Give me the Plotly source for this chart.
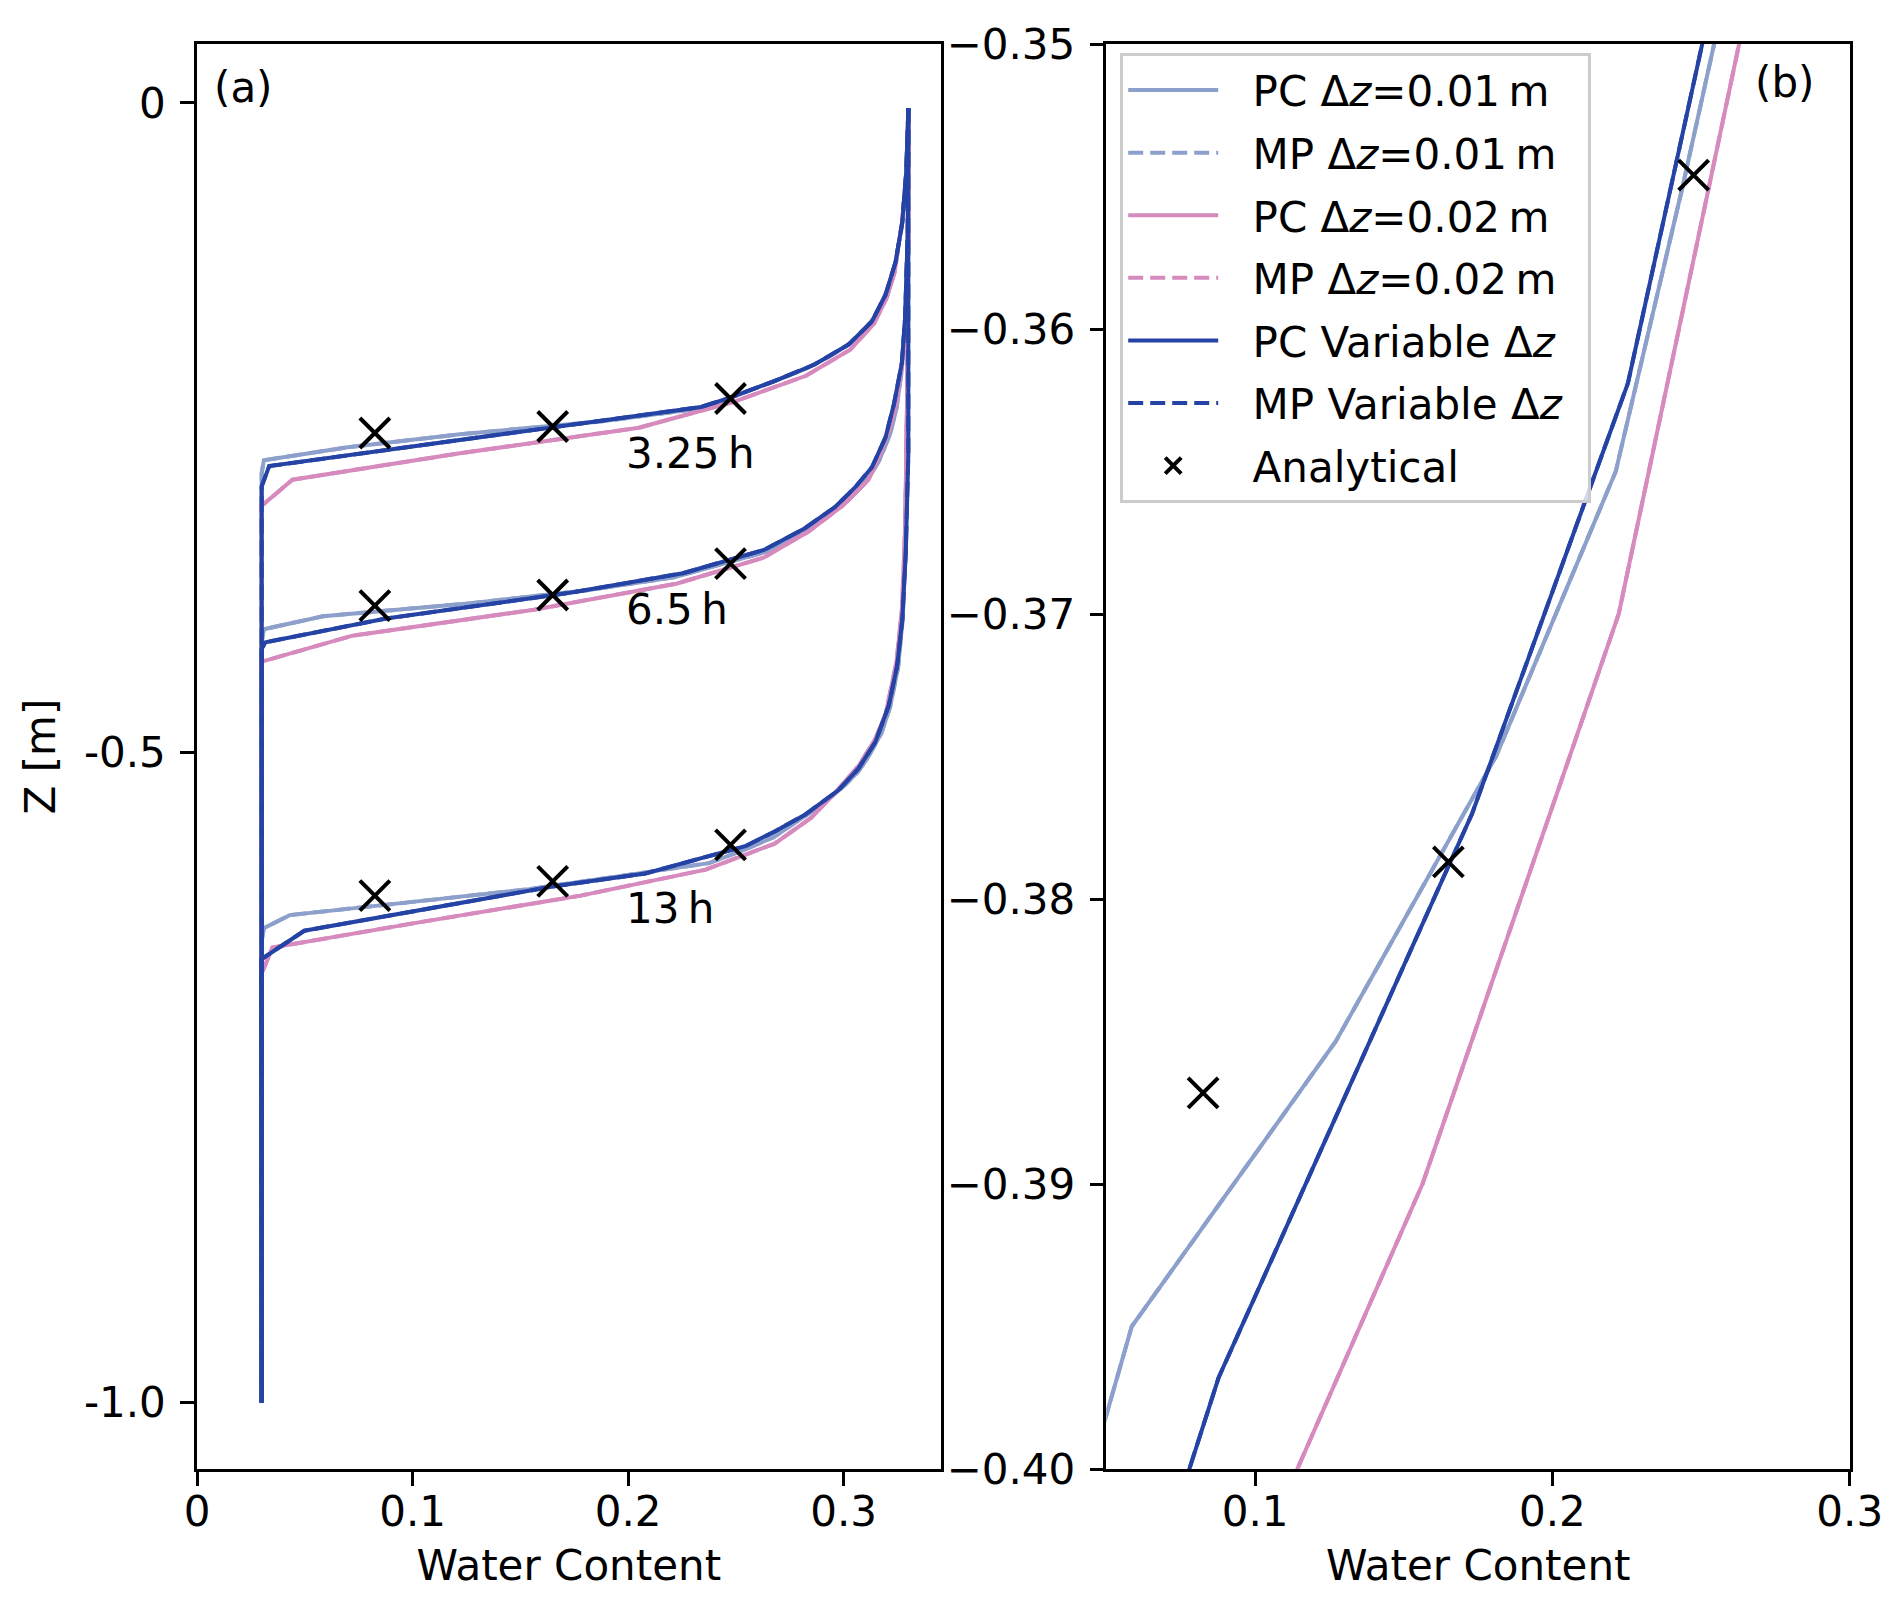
import plotly.graph_objects as go
from plotly.subplots import make_subplots

# colours of the three grids
LIGHT = "#8da0cb"
PINK = "#d68abd"
DARK = "#2443a5"
FONT = "DejaVu Sans"

# --- 3.25 h profiles (water content, depth) ---
th01_325 = [0.330, 0.329, 0.327, 0.3237, 0.320, 0.3142, 0.3095, 0.303, 0.2935, 0.282,
            0.2665, 0.250, 0.234, 0.188, 0.122, 0.070, 0.031, 0.030, 0.030]
z01_325 = [-0.005, -0.055, -0.095, -0.125, -0.145, -0.165, -0.175, -0.185, -0.195, -0.205,
           -0.215, -0.225, -0.235, -0.245, -0.255, -0.265, -0.275, -0.285, -1.0]
th02_325 = [0.330, 0.3292, 0.3272, 0.3237, 0.320, 0.314, 0.303, 0.2825, 0.249, 0.205,
            0.1204, 0.0443, 0.030, 0.030]
z02_325 = [-0.01, -0.05, -0.09, -0.13, -0.15, -0.17, -0.19, -0.21, -0.23, -0.25,
           -0.27, -0.29, -0.31, -1.0]
thv_325 = [0.330, 0.329, 0.3272, 0.3241, 0.3194, 0.3131, 0.3022, 0.2865, 0.2678, 0.2475,
           0.2338, 0.165, 0.0335, 0.030, 0.030]
zv_325 = [-0.004, -0.0535, -0.0917, -0.1223, -0.1478, -0.1682, -0.186, -0.2013, -0.2141, -0.2268,
          -0.234, -0.2495, -0.2795, -0.295, -1.0]

# --- 6.5 h profiles ---
th01_65 = [0.330, 0.3297, 0.3285, 0.327, 0.3245, 0.3215, 0.3165, 0.313, 0.3085, 0.3025, 0.295,
           0.2855, 0.2755, 0.265, 0.2438, 0.2213, 0.181, 0.1271, 0.0585, 0.031, 0.030, 0.030]
z01_65 = [-0.005, -0.105, -0.165, -0.205, -0.235, -0.255, -0.275, -0.285, -0.295, -0.305, -0.315,
          -0.325, -0.335, -0.345, -0.355, -0.365, -0.375, -0.385, -0.395, -0.405, -0.415, -1.0]
th02_65 = [0.330, 0.330, 0.3292, 0.3278, 0.3245, 0.3215, 0.317, 0.3115, 0.2995, 0.2835,
           0.2628, 0.2223, 0.1563, 0.0721, 0.030, 0.030]
z02_65 = [-0.01, -0.11, -0.15, -0.19, -0.23, -0.25, -0.27, -0.29, -0.31, -0.33,
          -0.35, -0.37, -0.39, -0.41, -0.43, -1.0]
thv_65 = [0.330, 0.3297, 0.3285, 0.327, 0.3233, 0.3194, 0.3131, 0.3054, 0.296, 0.2818,
          0.263, 0.2505, 0.2254, 0.173, 0.0877, 0.0318, 0.030, 0.030]
zv_65 = [-0.004, -0.10, -0.165, -0.20, -0.2319, -0.2574, -0.2804, -0.2957, -0.311, -0.3275,
         -0.344, -0.35, -0.3619, -0.377, -0.3968, -0.415, -0.42, -1.0]

# --- 13 h profiles ---
th01_13 = [0.330, 0.3296, 0.3288, 0.3275, 0.3252, 0.3215, 0.3175, 0.3108, 0.3065, 0.3005, 0.2935,
           0.2855, 0.2765, 0.2675, 0.2535, 0.2375, 0.196, 0.154, 0.099, 0.043, 0.031, 0.030, 0.030]
z01_13 = [-0.005, -0.205, -0.305, -0.395, -0.435, -0.465, -0.485, -0.505, -0.515, -0.525, -0.535,
          -0.545, -0.555, -0.565, -0.575, -0.585, -0.595, -0.605, -0.615, -0.625, -0.635, -0.645, -1.0]
th02_13 = [0.330, 0.3296, 0.3285, 0.327, 0.3245, 0.3195, 0.3145, 0.307, 0.2965, 0.285,
           0.268, 0.236, 0.178, 0.105, 0.035, 0.030, 0.030]
z02_13 = [-0.01, -0.21, -0.33, -0.39, -0.43, -0.47, -0.49, -0.51, -0.53, -0.55,
          -0.57, -0.59, -0.61, -0.63, -0.65, -0.67, -1.0]
thv_13 = [0.330, 0.330, 0.3288, 0.3272, 0.3248, 0.3209, 0.3147, 0.3068, 0.2975, 0.2818,
          0.2678, 0.2543, 0.208, 0.165, 0.0498, 0.0298, 0.030]
zv_13 = [-0.004, -0.27, -0.3467, -0.3976, -0.4333, -0.4639, -0.4919, -0.5123, -0.529, -0.548,
         -0.5608, -0.572, -0.593, -0.603, -0.637, -0.659, -1.0]

# analytical solution
an_th = [0.0825, 0.165, 0.2475]
an_z_325 = [-0.254, -0.249, -0.2275]
an_z_65 = [-0.3868, -0.3787, -0.3546]
an_z_13 = [-0.610, -0.599, -0.571]

time_labels = ["3.25\u2009h", "6.5\u2009h", "13\u2009h"]
label_z = [-0.270, -0.3896, -0.6197]


def join(*segs):
    # glue several profiles into one trace, separated by gaps
    out = []
    for s in segs:
        if out:
            out.append(None)
        out.extend(s)
    return out


def lname(s):
    # a bit of room between the legend sample and its text
    return "\u2002\u2009" + s + "\u2002"


series = [
    ("PC Δ<i>z</i>=0.01\u2009m", LIGHT, "solid", (th01_325, th01_65, th01_13), (z01_325, z01_65, z01_13)),
    ("MP Δ<i>z</i>=0.01\u2009m", LIGHT, "15px,7px", (th01_325, th01_65, th01_13), (z01_325, z01_65, z01_13)),
    ("PC Δ<i>z</i>=0.02\u2009m", PINK, "solid", (th02_325, th02_65, th02_13), (z02_325, z02_65, z02_13)),
    ("MP Δ<i>z</i>=0.02\u2009m", PINK, "15px,7px", (th02_325, th02_65, th02_13), (z02_325, z02_65, z02_13)),
    ("PC Variable Δ<i>z</i>", DARK, "solid", (thv_325, thv_65, thv_13), (zv_325, zv_65, zv_13)),
    ("MP Variable Δ<i>z</i>", DARK, "15px,7px", (thv_325, thv_65, thv_13), (zv_325, zv_65, zv_13)),
]

fig = make_subplots(rows=1, cols=2)

for i, (name, color, dash, ths, zs) in enumerate(series):
    # panel (a): all three times
    fig.add_trace(go.Scatter(
        x=join(*ths), y=join(*zs), mode="lines", name=lname(name),
        legendgroup=str(i), line=dict(color=color, width=4, dash=dash),
    ), row=1, col=1)
    # panel (b): close-up of the 6.5 h front
    fig.add_trace(go.Scatter(
        x=ths[1], y=zs[1], mode="lines", showlegend=False,
        line=dict(color=color, width=4, dash=dash),
    ), row=1, col=2)

marker_x = dict(symbol="x-thin", size=30, color="black", line=dict(width=4, color="black"))
fig.add_trace(go.Scatter(
    x=join(an_th, an_th, an_th), y=join(an_z_325, an_z_65, an_z_13),
    mode="markers", name=lname("Analytical"), legendgroup="an", marker=marker_x,
), row=1, col=1)
fig.add_trace(go.Scatter(
    x=an_th, y=an_z_65, mode="markers", showlegend=False, marker=marker_x,
), row=1, col=2)

# time labels and panel letters
for txt, zl in zip(time_labels, label_z):
    fig.add_annotation(x=0.198, y=zl, xref="x", yref="y", text=txt, showarrow=False,
                       xanchor="left", yanchor="middle", font=dict(size=42))
fig.add_annotation(x=0.007, y=0.0115, xref="x", yref="y", text="(a)", showarrow=False,
                   xanchor="left", yanchor="middle", font=dict(size=42))
fig.add_annotation(x=0.2675, y=-0.35135, xref="x2", yref="y2", text="(b)", showarrow=False,
                   xanchor="left", yanchor="middle", font=dict(size=42))

axis_style = dict(showline=True, linecolor="black", linewidth=2.5, mirror=True,
                  ticks="outside", ticklen=14, tickwidth=2.5, tickcolor="black",
                  showgrid=False, zeroline=False, tickfont=dict(size=42, color="black"))

fig.update_xaxes(axis_style, ticklabelstandoff=-10,
                 title=dict(text="Water Content", font=dict(size=42), standoff=16))
fig.update_yaxes(axis_style, ticklabelstandoff=6)

fig.update_xaxes(domain=[0, 0.4499], range=[0, 0.345],
                 tickvals=[0, 0.1, 0.2, 0.3], ticktext=["0", "0.1", "0.2", "0.3"], row=1, col=1)
fig.update_yaxes(range=[-1.0512, 0.0453],
                 tickvals=[0, -0.5, -1.0], ticktext=["0", "-0.5", "-1.0"],
                 title=dict(text="Z [m]", font=dict(size=42), standoff=16), row=1, col=1)
fig.update_xaxes(domain=[0.5502, 1.0], range=[0.05, 0.3001],
                 tickvals=[0.1, 0.2, 0.3], ticktext=["0.1", "0.2", "0.3"], row=1, col=2)
fig.update_yaxes(range=[-0.40, -0.35],
                 tickvals=[-0.35, -0.36, -0.37, -0.38, -0.39, -0.40],
                 ticktext=["\u22120.35", "\u22120.36", "\u22120.37", "\u22120.38", "\u22120.39", "\u22120.40"],
                 row=1, col=2)

fig.update_layout(
    width=1892, height=1600,
    margin=dict(l=189, r=50, t=34, b=139),
    paper_bgcolor="white", plot_bgcolor="white",
    font=dict(family=FONT, size=42, color="black"),
    legend=dict(x=0.5585, y=0.9935, xanchor="left", yanchor="top",
                bgcolor="rgba(255,255,255,0.8)", bordercolor="#cccccc", borderwidth=3,
                font=dict(size=42), itemwidth=90, traceorder="grouped", tracegroupgap=5),
    showlegend=True,
)

fig.write_html("out.html")
